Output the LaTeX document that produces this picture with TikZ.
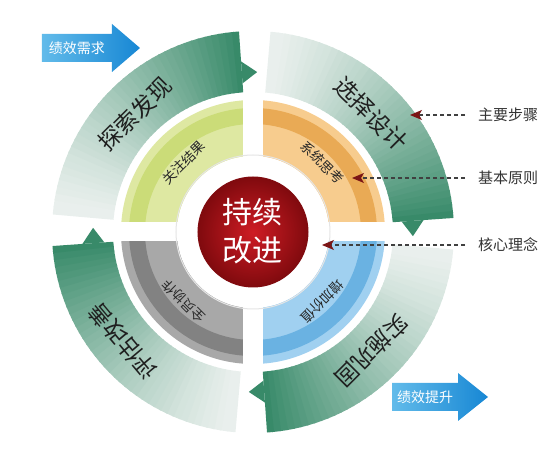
\documentclass[tikz,border=0pt]{standalone}
\usepackage{fontspec}
\newfontfamily\cjk{Noto Sans CJK SC}
\usetikzlibrary{arrows.meta}
\definecolor{arcgreen}{RGB}{56,138,105}
\definecolor{arcpale}{RGB}{244,246,245}
\definecolor{ygbase}{RGB}{222,232,162}
\definecolor{ygband}{RGB}{203,220,120}
\definecolor{orbase}{RGB}{247,204,142}
\definecolor{orband}{RGB}{233,170,85}
\definecolor{blbase}{RGB}{160,208,240}
\definecolor{blband}{RGB}{106,178,226}
\definecolor{grbase}{RGB}{168,168,168}
\definecolor{grband}{RGB}{130,130,130}
\definecolor{redhi}{RGB}{206,28,36}
\definecolor{redlo}{RGB}{128,10,14}
\definecolor{bluehi}{RGB}{98,187,234}
\definecolor{bluelo}{RGB}{23,135,212}
\definecolor{ptred}{RGB}{123,22,22}
\begin{document}
\begin{tikzpicture}[x=1pt,y=1pt,
    steplabel/.style={font=\cjk\fontsize{23}{23}\selectfont, text=black!88, inner sep=0pt},
    ideal/.style={font=\cjk\fontsize{13.5}{13.5}\selectfont, text=black!85, inner sep=0pt},
    coretext/.style={font=\cjk\fontsize{30}{38}\selectfont, text=white, align=center, inner sep=0pt},
    arrowtext/.style={font=\cjk\fontsize{14}{14}\selectfont, text=white, inner sep=0pt},
    sidelabel/.style={font=\cjk\fontsize{15}{15}\selectfont, text=black!80, anchor=west, inner sep=3pt},
    pointer/.style={draw=black!75, line width=1.1pt, dash pattern=on 4pt off 3pt,
      shorten <=10pt, -{Stealth[length=12pt,width=10pt,inset=3pt,color=ptred]}}
  ]
  \useasboundingbox (-253,-233) rectangle (307,232);
  % outer ring
  \foreach \st in {180,90,0,-90} {
    \foreach \i in {0,...,39} {
      \pgfmathsetmacro\a{\st-5-\i*2.025}
      \pgfmathsetmacro\b{max(\a-2.5,\st-86)}
      \pgfmathtruncatemacro\p{6+94*(\i/39)^1.3}
      \fill[arcgreen!\p!arcpale] (\a:140) arc[start angle=\a,end angle=\b,radius=140]
        -- (\b:201) arc[start angle=\b,end angle=\a,radius=201] -- cycle;
    }
    \pgfmathsetmacro\e{\st-86}
    \pgfmathsetmacro\t{\st-91.5}
    \fill[arcgreen] (\e:149) -- (\t:160) -- (\e:171) -- cycle;
  }
  % inner quadrants
  \foreach \q/\base/\band in {90/ygbase/ygband, 0/orbase/orband, -90/blbase/blband, 180/grbase/grband} {
    \pgfmathsetmacro\qe{\q+90}
    \fill[\base] (\q:75) arc[start angle=\q,end angle=\qe,radius=75]
      -- (\qe:132) arc[start angle=\qe,end angle=\q,radius=132] -- cycle;
    \fill[\band] (\q:108) arc[start angle=\q,end angle=\qe,radius=108]
      -- (\qe:124) arc[start angle=\qe,end angle=\q,radius=124] -- cycle;
  }
  \fill[white] (-10,-136) rectangle (10,136);
  \fill[white] (-136,-9.5) rectangle (136,9.5);
  \fill[white] (0,0) circle[radius=76];
  \draw[black!10, line width=1pt] (0,0) circle[radius=77];
  \shade[inner color=redhi, outer color=redlo] (0,0) circle[radius=55];
  \draw[redlo, line width=1pt] (0,0) circle[radius=55];
  \node[coretext] (core) at (0,1) {持续\\改进};
  % ring labels
  \node[steplabel, rotate=45] (explore) at (135:167) {探索发现};
  \node[steplabel, rotate=-45] (design) at (45:167) {选择设计};
  \node[steplabel, rotate=-135] (build) at (-45:168) {实施巩固};
  \node[steplabel, rotate=130] (assess) at (220:170) {评估改善};
  \node[ideal, rotate=45] (results) at (135:98) {关注结果};
  \node[ideal, rotate=-45] (systems) at (45:98) {系统思考};
  \node[ideal, rotate=-135] (value) at (-45:98) {增加价值};
  \node[ideal, rotate=135] (partner) at (225:98) {全员协作};
  % blue arrows
  \shade[left color=bluehi, right color=bluelo] (-211,170) -- (-141,170) -- (-141,160)
    -- (-113,184) -- (-141,208) -- (-141,198) -- (-211,198) -- cycle;
  \node[arrowtext] (need) at (-176,184) {绩效需求};
  \shade[left color=bluehi, right color=bluelo] (139,-179) -- (205,-179) -- (205,-189)
    -- (235,-165) -- (205,-141) -- (205,-151) -- (139,-151) -- cycle;
  \node[arrowtext] (gain) at (172,-165) {绩效提升};
  % side labels
  \node[sidelabel] (steps) at (222,117) {主要步骤};
  \node[sidelabel] (rules) at (222,54) {基本原则};
  \node[sidelabel] (ideas) at (222,-13) {核心理念};
  \coordinate (stepstip) at (157,117);
  \coordinate (rulestip) at (99,54);
  \coordinate (ideastip) at (69,-13);
  \draw[pointer] (steps) -- (stepstip);
  \draw[pointer] (rules) -- (rulestip);
  \draw[pointer] (ideas) -- (ideastip);
\end{tikzpicture}
\end{document}
